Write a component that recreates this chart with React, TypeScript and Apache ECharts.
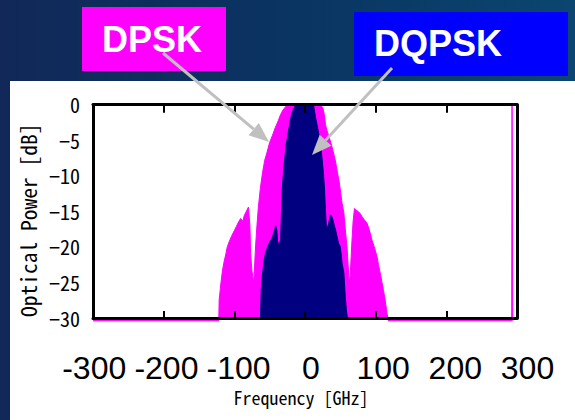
import React, { useEffect, useRef } from "react";
import * as echarts from "echarts";

// DPSK spectrum (magenta) – frequency [GHz] and optical power [dB]
const dpskFreq = [
  -300, -122, -121.5, -119, -117, -115, -112, -110, -107, -104, -100, -97, -94, -91, -88, -86, -83, -80,
  -78, -77, -75, -72.5, -71, -70, -68, -66, -63, -60, -57, -54, -50, -46, -42, -38, -35, -32, -30, -26,
  -22, 22, 25, 27, 29, 31, 34, 37, 40, 43, 46, 48, 50, 52.5, 55, 57, 59.5, 61, 62.5, 64, 66, 68, 70,
  72, 75, 78, 81, 84, 88, 91, 95, 98, 102, 104, 106.5, 109, 111, 113.5, 116, 118, 292.5, 293, 293.6, 294,
];
const dpskPower = [
  -30.4, -30.4, -27.5, -25.1, -23.5, -22.3, -21, -20, -19.2, -18.5, -17.7, -17.1, -16.5, -16, -16.4, -15.6, -15, -14.4,
  -17, -20.9, -23.5, -25.1, -22, -20, -17, -14.4, -11.6, -9.5, -7.8, -6.8, -5.3, -4.3, -3.2, -2.3, -1.5, -0.9, -0.6, -0.1,
  0, 0, -0.4, -1.2, -2.8, -3.6, -4.5, -5.5, -6.6, -7.9, -9.6, -10.6, -12, -13.9, -15.2, -17.5, -20, -22.5, -25.1, -24, -20, -16.5, -14.6,
  -14.8, -15, -15.3, -15.8, -16.2, -16.7, -17.6, -19.1, -20, -21.4, -22.5, -23.7, -25, -26.1, -27.5, -29.3, -30.4, -30.4, 0, 0, -30.4,
];

// DQPSK spectrum (navy)
const dqpskFreq = [
  -63, -62, -60.5, -58, -56, -53, -51, -48, -46, -43, -41.5, -40, -38.5, -36, -34.5, -33, -32, -30.5, -29,
  -26.5, -24, -22, -20, -18, -16, -13, 12, 13.5, 15, 17, 19.5, 22, 24, 26, 27.5, 29, 30.5, 32, 33.5, 36,
  38.5, 41, 43, 45.5, 47.5, 50, 52.5, 55, 57, 58.5, 60,
];
const dqpskPower = [
  -30, -26, -24.2, -22, -20.9, -20, -19.5, -19, -18.6, -17.6, -17, -17.5, -19.5, -19.5, -19, -14, -11.6, -9.5, -7.9,
  -5.5, -4.1, -2.9, -1.8, -1, -0.6, 0, 0, -0.9, -1.8, -2.8, -4.1, -5.6, -7.4, -9.5, -11.6, -15, -17.7, -17.2, -16.7, -15.5,
  -15.8, -16.8, -17.5, -18.6, -19.5, -20, -22.3, -23.7, -27, -28.8, -30,
];

const freqTickLabels = ["-300", "-200", "-100", "0", "100", "200", "300"];
const seriesNames = ["DPSK", "DQPSK"];

const MONO = "'Noto Sans Mono CJK JP', 'Noto Sans CJK JP', 'DejaVu Sans Mono', monospace";

function arrow(x1: number, y1: number, x2: number, y2: number) {
  const dx = x2 - x1;
  const dy = y2 - y1;
  const L = Math.hypot(dx, dy);
  const ux = dx / L;
  const uy = dy / L;
  const hl = 20;
  const hw = 8;
  const bx = x2 - ux * hl;
  const by = y2 - uy * hl;
  return [
    {
      type: "line",
      z: 100,
      shape: { x1, y1, x2: bx, y2: by },
      style: { stroke: "#c0c0c0", lineWidth: 3 },
    },
    {
      type: "polygon",
      z: 100,
      shape: {
        points: [
          [x2, y2],
          [bx - uy * hw, by + ux * hw],
          [bx + uy * hw, by - ux * hw],
        ],
      },
      style: { fill: "#c0c0c0" },
    },
  ];
}

export default function App() {
  const ref = useRef<HTMLDivElement>(null);
  useEffect(() => {
    const chart = echarts.init(ref.current!, null, { renderer: "svg" });
    const dpskData = dpskFreq.map((f, i) => [f, dpskPower[i]]);
    const dqpskData = dqpskFreq.map((f, i) => [f, dqpskPower[i]]);
    const axisLineStyle = { color: "#000", width: 3 };
    const option: any = {
      animation: false,
      grid: [
        { left: 93, right: 58, top: 104.7, bottom: 102 },
        { left: 94.2, right: 47.5, top: 104.7, bottom: 102 },
      ],
      xAxis: [
        {
          type: "value",
          gridIndex: 0,
          min: -300,
          max: 300,
          interval: 100,
          z: 5,
          name: "Frequency [GHz]",
          nameLocation: "middle",
          nameGap: 70,
          nameTextStyle: {
            fontFamily: MONO,
            fontSize: 18,
            lineHeight: 18,
            color: "#000",
            padding: [0, 8, 0, 0],
          },
          axisLine: { show: true, onZero: false, lineStyle: axisLineStyle },
          axisTick: { show: true, inside: true, length: 7, lineStyle: { color: "#000", width: 2 } },
          axisLabel: { show: false },
          splitLine: { show: false },
        },
        {
          type: "value",
          gridIndex: 0,
          position: "top",
          min: -300,
          max: 300,
          interval: 100,
          z: 5,
          axisLine: { show: true, onZero: false, lineStyle: axisLineStyle },
          axisTick: { show: true, inside: true, length: 8, lineStyle: { color: "#000", width: 2 } },
          axisLabel: { show: false },
          splitLine: { show: false },
        },
        {
          type: "category",
          gridIndex: 1,
          data: freqTickLabels,
          boundaryGap: false,
          axisLine: { show: false },
          axisTick: { show: false },
          splitLine: { show: false },
          axisLabel: {
            show: true,
            interval: 0,
            margin: 37,
            lineHeight: 26,
            color: "#000",
            fontSize: 32,
            fontFamily: "'Liberation Sans', Arial, sans-serif",
          },
        },
      ],
      yAxis: [
        {
          type: "value",
          gridIndex: 0,
          min: -30,
          max: 0,
          interval: 5,
          z: 5,
          name: "Optical Power [dB]",
          nameLocation: "middle",
          nameGap: 50,
          nameTextStyle: { fontFamily: MONO, fontSize: 21.5, color: "#000", padding: [0, 18, 0, 0] },
          axisLine: { show: true, onZero: false, lineStyle: axisLineStyle },
          axisTick: { show: false },
          splitLine: { show: false },
          axisLabel: {
            show: true,
            margin: 13,
            color: "#000",
            fontSize: 20,
            lineHeight: 20,
            fontFamily: MONO,
            formatter: (v: number) => String(v).replace("-", "\u2212"),
          },
        },
        {
          type: "value",
          gridIndex: 0,
          position: "right",
          min: -30,
          max: 0,
          interval: 5,
          z: 5,
          axisLine: { show: true, onZero: false, lineStyle: axisLineStyle },
          axisTick: { show: false },
          axisLabel: { show: false },
          splitLine: { show: false },
        },
        {
          type: "value",
          gridIndex: 1,
          show: false,
        },
      ],
      series: [
        {
          name: seriesNames[0],
          type: "line",
          xAxisIndex: 0,
          yAxisIndex: 0,
          data: dpskData,
          showSymbol: false,
          clip: false,
          lineStyle: { width: 1, color: "#ff00ff" },
          itemStyle: { color: "#ff00ff" },
          areaStyle: { color: "#ff00ff", opacity: 1, origin: "start" },
          z: 2,
        },
        {
          name: seriesNames[1],
          type: "line",
          xAxisIndex: 0,
          yAxisIndex: 0,
          data: dqpskData,
          showSymbol: false,
          lineStyle: { width: 1, color: "#000080" },
          itemStyle: { color: "#000080" },
          areaStyle: { color: "#000080", opacity: 1, origin: "start" },
          z: 3,
        },
      ],
      graphic: [
        {
          type: "rect",
          z: -100,
          shape: { x: 0, y: 0, width: 575, height: 420 },
          style: {
            fill: new echarts.graphic.LinearGradient(0, 0, 1, 0, [
              { offset: 0, color: "#112858" },
              { offset: 0.5, color: "#0a3462" },
              { offset: 1, color: "#0b4670" },
            ]),
          },
        },
        {
          type: "rect",
          z: -90,
          shape: { x: 10, y: 81, width: 565, height: 339 },
          style: { fill: "#ffffff" },
        },
        {
          type: "rect",
          z: 100,
          shape: { x: 82, y: 7, width: 144, height: 64 },
          style: { fill: "#ff00ff" },
        },
        {
          type: "text",
          z: 101,
          x: 152,
          y: 39,
          style: {
            text: seriesNames[0],
            fill: "#ffffff",
            font: "bold 36px 'Liberation Sans', Arial, sans-serif",
            textAlign: "center",
            textVerticalAlign: "middle",
            align: "center",
            verticalAlign: "middle",
          },
        },
        {
          type: "rect",
          z: 100,
          shape: { x: 354, y: 12, width: 214, height: 64 },
          style: { fill: "#0000ff" },
        },
        {
          type: "text",
          z: 101,
          x: 374,
          y: 43,
          style: {
            text: seriesNames[1],
            fill: "#ffffff",
            font: "bold 36px 'Liberation Sans', Arial, sans-serif",
            textAlign: "left",
            textVerticalAlign: "middle",
            align: "left",
            verticalAlign: "middle",
          },
        },
        ...arrow(163, 53, 269, 142),
        ...arrow(392, 68, 312, 155),
      ],
    };
    chart.setOption(option);
    return () => chart.dispose();
  }, []);
  return (
    <div
      ref={ref}
      style={{ position: "absolute", left: 0, top: 0, width: 575, height: 420 }}
    />
  );
}
